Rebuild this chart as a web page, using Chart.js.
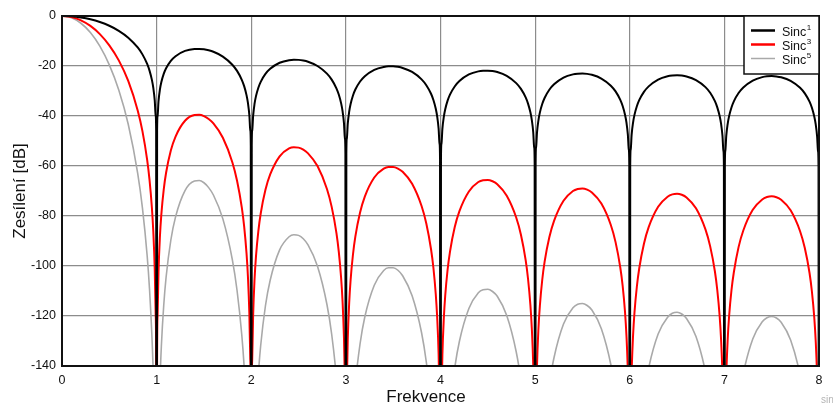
<!DOCTYPE html>
<html>
<head>
<meta charset="utf-8">
<title>Sinc</title>
<script src="https://cdn.jsdelivr.net/npm/chart.js@4.4.1/dist/chart.umd.min.js"></script>
<style>
    html, body { margin: 0; padding: 0; background: #fff; }
    #obal { width: 833px; height: 405px; position: relative; }
</style>
</head>
<body>
<div id="obal"><canvas id="sincGraf"></canvas></div>
<script>
// frekvence (normovaná) - společná osa pro všechny křivky, u nul hustší
const frekvence = [
    0, 0.1, 0.2, 0.3, 0.4, 0.5, 0.6, 0.7, 0.8, 0.85, 0.9, 0.925, 0.95, 0.965, 0.98, 0.99, 0.995,
    1, 1.005, 1.01, 1.02, 1.035, 1.05, 1.075, 1.1, 1.15, 1.2, 1.3, 1.4, 1.45, 1.5, 1.55, 1.6, 1.7, 1.8, 1.85, 1.9, 1.925, 1.95, 1.965, 1.98, 1.99, 1.995,
    2, 2.005, 2.01, 2.02, 2.035, 2.05, 2.075, 2.1, 2.15, 2.2, 2.3, 2.4, 2.45, 2.5, 2.55, 2.6, 2.7, 2.8, 2.85, 2.9, 2.925, 2.95, 2.965, 2.98, 2.99, 2.995,
    3, 3.005, 3.01, 3.02, 3.035, 3.05, 3.075, 3.1, 3.15, 3.2, 3.3, 3.4, 3.45, 3.5, 3.55, 3.6, 3.7, 3.8, 3.85, 3.9, 3.925, 3.95, 3.965, 3.98, 3.99, 3.995,
    4, 4.005, 4.01, 4.02, 4.035, 4.05, 4.075, 4.1, 4.15, 4.2, 4.3, 4.4, 4.45, 4.5, 4.55, 4.6, 4.7, 4.8, 4.85, 4.9, 4.925, 4.95, 4.965, 4.98, 4.99, 4.995,
    5, 5.005, 5.01, 5.02, 5.035, 5.05, 5.075, 5.1, 5.15, 5.2, 5.3, 5.4, 5.45, 5.5, 5.55, 5.6, 5.7, 5.8, 5.85, 5.9, 5.925, 5.95, 5.965, 5.98, 5.99, 5.995,
    6, 6.005, 6.01, 6.02, 6.035, 6.05, 6.075, 6.1, 6.15, 6.2, 6.3, 6.4, 6.45, 6.5, 6.55, 6.6, 6.7, 6.8, 6.85, 6.9, 6.925, 6.95, 6.965, 6.98, 6.99, 6.995,
    7, 7.005, 7.01, 7.02, 7.035, 7.05, 7.075, 7.1, 7.15, 7.2, 7.3, 7.4, 7.45, 7.5, 7.55, 7.6, 7.7, 7.8, 7.85, 7.9, 7.925, 7.95, 7.965, 7.98, 7.99, 7.995,
    8
];

// zesílení v dB (v nulách -400, tj. hluboko pod osou)
const sinc1 = [
    0, -0.14, -0.58, -1.32, -2.41, -3.91, -5.92, -8.66, -12.59, -15.35, -19.18, -21.85, -25.56, -28.77, -33.76, -39.86, -45.92,
    -400, -46.01, -40.03, -34.10, -29.37, -26.42, -23.15, -20.90, -17.94, -16.07, -13.97, -13.20, -13.16, -13.34, -13.73, -14.32, -16.23, -19.49, -21.96, -25.52, -28.06, -31.64, -34.78, -39.70, -45.76, -51.80,
    -400, -51.84, -45.84, -39.86, -35.07, -32.05, -28.68, -26.33, -23.18, -21.13, -18.71, -17.66, -17.50, -17.55, -17.82, -18.31, -20.01, -23.07, -25.45, -28.92, -31.43, -34.96, -38.08, -42.97, -49.01, -55.05,
    -400, -55.07, -49.06, -43.07, -38.26, -35.21, -31.80, -29.42, -26.21, -24.08, -21.53, -20.36, -20.13, -20.13, -20.34, -20.77, -22.37, -25.34, -27.67, -31.10, -33.58, -37.10, -40.20, -45.08, -51.12, -57.14,
    -400, -57.16, -51.15, -45.15, -40.32, -37.27, -33.84, -31.44, -28.18, -26.02, -23.39, -22.14, -21.89, -21.85, -22.03, -22.42, -23.96, -26.86, -29.16, -32.56, -35.03, -38.53, -41.63, -46.50, -52.53, -58.55,
    -400, -58.57, -52.55, -46.54, -41.71, -38.65, -35.20, -32.79, -29.51, -27.32, -24.64, -23.34, -23.06, -22.99, -23.15, -23.52, -25.01, -27.87, -30.15, -33.52, -35.98, -39.47, -42.56, -47.42, -53.45, -59.47,
    -400, -59.48, -53.46, -47.45, -42.61, -39.54, -36.09, -33.66, -30.36, -28.15, -25.43, -24.09, -23.78, -23.70, -23.84, -24.19, -25.64, -28.46, -30.72, -34.08, -36.53, -40.01, -43.09, -47.95, -53.97, -59.99,
    -400, -60.00, -53.98, -47.96, -43.12, -40.04, -36.58, -34.15, -30.82, -28.60, -25.84, -24.46, -24.14, -24.04, -24.16, -24.50, -25.91, -28.70, -30.94, -34.28, -36.72, -40.19, -43.27, -48.12, -54.14, -60.16,
    -400
];

const sinc3 = [
    0, -0.42, -1.74, -3.96, -7.23, -11.73, -17.76, -25.98, -37.77, -46.05, -57.54, -65.55, -76.68, -86.31, -101.3, -119.6, -137.8,
    -400, -138.0, -120.1, -102.3, -88.11, -79.26, -69.45, -62.70, -53.82, -48.21, -41.91, -39.60, -39.48, -40.02, -41.19, -42.96, -48.69, -58.47, -65.88, -76.56, -84.18, -94.92, -104.3, -119.1, -137.3, -155.4,
    -400, -155.5, -137.5, -119.6, -105.2, -96.15, -86.04, -78.99, -69.54, -63.39, -56.13, -52.98, -52.50, -52.65, -53.46, -54.93, -60.03, -69.21, -76.35, -86.76, -94.29, -104.9, -114.2, -128.9, -147.0, -165.2,
    -400, -165.2, -147.2, -129.2, -114.8, -105.6, -95.40, -88.26, -78.63, -72.24, -64.59, -61.08, -60.39, -60.39, -61.02, -62.31, -67.11, -76.02, -83.01, -93.30, -100.7, -111.3, -120.6, -135.2, -153.4, -171.4,
    -400, -171.5, -153.5, -135.5, -121.0, -111.8, -101.5, -94.32, -84.54, -78.06, -70.17, -66.42, -65.67, -65.55, -66.09, -67.26, -71.88, -80.58, -87.48, -97.68, -105.1, -115.6, -124.9, -139.5, -157.6, -175.7,
    -400, -175.7, -157.7, -139.6, -125.1, -116.0, -105.6, -98.37, -88.53, -81.96, -73.92, -70.02, -69.18, -68.97, -69.45, -70.56, -75.03, -83.61, -90.45, -100.6, -107.9, -118.4, -127.7, -142.3, -160.4, -178.4,
    -400, -178.4, -160.4, -142.4, -127.8, -118.6, -108.3, -101.0, -91.08, -84.45, -76.29, -72.27, -71.34, -71.10, -71.52, -72.57, -76.92, -85.38, -92.16, -102.2, -109.6, -120.0, -129.3, -143.9, -161.9, -180.0,
    -400, -180.0, -161.9, -143.9, -129.4, -120.1, -109.7, -102.5, -92.46, -85.80, -77.52, -73.38, -72.42, -72.12, -72.48, -73.50, -77.73, -86.10, -92.82, -102.8, -110.2, -120.6, -129.8, -144.4, -162.4, -180.5,
    -400
];

const sinc5 = [
    0, -0.70, -2.90, -6.60, -12.05, -19.55, -29.60, -43.30, -62.95, -76.75, -95.90, -109.3, -127.8, -143.9, -168.8, -199.3, -229.6,
    -400, -230.1, -200.2, -170.5, -146.9, -132.1, -115.8, -104.5, -89.70, -80.35, -69.85, -66.00, -65.80, -66.70, -68.65, -71.60, -81.15, -97.45, -109.8, -127.6, -140.3, -158.2, -173.9, -198.5, -228.8, -259.0,
    -400, -259.2, -229.2, -199.3, -175.4, -160.3, -143.4, -131.7, -115.9, -105.7, -93.55, -88.30, -87.50, -87.75, -89.10, -91.55, -100.1, -115.4, -127.3, -144.6, -157.2, -174.8, -190.4, -214.9, -245.1, -275.3,
    -400, -275.4, -245.3, -215.4, -191.3, -176.1, -159.0, -147.1, -131.1, -120.4, -107.7, -101.8, -100.7, -100.7, -101.7, -103.9, -111.9, -126.7, -138.4, -155.5, -167.9, -185.5, -201.0, -225.4, -255.6, -285.7,
    -400, -285.8, -255.8, -225.8, -201.6, -186.4, -169.2, -157.2, -140.9, -130.1, -117.0, -110.7, -109.5, -109.3, -110.2, -112.1, -119.8, -134.3, -145.8, -162.8, -175.2, -192.7, -208.2, -232.5, -262.7, -292.8,
    -400, -292.9, -262.8, -232.7, -208.6, -193.3, -176.0, -164.0, -147.6, -136.6, -123.2, -116.7, -115.3, -115.0, -115.8, -117.6, -125.1, -139.4, -150.8, -167.6, -179.9, -197.4, -212.8, -237.1, -267.3, -297.4,
    -400, -297.4, -267.3, -237.3, -213.1, -197.7, -180.5, -168.3, -151.8, -140.8, -127.2, -120.5, -118.9, -118.5, -119.2, -121.0, -128.2, -142.3, -153.6, -170.4, -182.7, -200.1, -215.5, -239.8, -269.9, -300.0,
    -400, -300.0, -269.9, -239.8, -215.6, -200.2, -182.9, -170.8, -154.1, -143.0, -129.2, -122.3, -120.7, -120.2, -120.8, -122.5, -129.6, -143.5, -154.7, -171.4, -183.6, -201.0, -216.4, -240.6, -270.7, -300.8,
    -400
];

// popisky os
const znackyX = [0, 1, 2, 3, 4, 5, 6, 7, 8];
const znackyY = [0, -20, -40, -60, -80, -100, -120, -140];
const mocniny = [1, 3, 5];

const pismo = '"Liberation Sans", Arial, sans-serif';

function body(hodnoty) {
    return frekvence.map((f, i) => ({ x: f, y: hodnoty[i] }));
}

// rámeček kolem grafu, popis osy X a legenda s exponenty
const ramecek = {
    id: 'ramecek',
    afterDatasetsDraw(chart) {
        const { ctx, chartArea: a } = chart;
        ctx.save();
        ctx.strokeStyle = '#111';
        ctx.lineWidth = 2;
        ctx.strokeRect(a.left, a.top, a.right - a.left, a.bottom - a.top);
        ctx.restore();
    },
    afterDraw(chart) {
        const { ctx, chartArea: a } = chart;
        ctx.save();

        ctx.fillStyle = '#111';
        ctx.font = '17px ' + pismo;
        ctx.textAlign = 'center';
        ctx.textBaseline = 'alphabetic';
        ctx.fillText('Frekvence', 426, 402);

        ctx.fillStyle = '#b4b4b4';
        ctx.font = '10px ' + pismo;
        ctx.textAlign = 'left';
        ctx.fillText('sinc', 821, 403);

        // legenda
        const w = 75, h = 58;
        const x = a.right - w, y = a.top;
        ctx.fillStyle = '#fff';
        ctx.fillRect(x, y, w, h);
        ctx.strokeStyle = '#111';
        ctx.lineWidth = 1.5;
        ctx.strokeRect(x, y, w, h);

        chart.data.datasets.forEach((ds, i) => {
            const cy = y + 14.5 + i * 14;
            ctx.strokeStyle = ds.borderColor;
            ctx.lineWidth = i === 2 ? 1.5 : 2.5;
            ctx.beginPath();
            ctx.moveTo(x + 7, cy);
            ctx.lineTo(x + 31, cy);
            ctx.stroke();

            ctx.fillStyle = '#111';
            ctx.font = '12.5px ' + pismo;
            ctx.fillText('Sinc', x + 38, cy + 5);
            const sw = ctx.measureText('Sinc').width;
            ctx.font = '8px ' + pismo;
            ctx.fillText(String(mocniny[i]), x + 38 + sw + 0.5, cy - 1);
        });
        ctx.restore();
    }
};

const ctx = document.getElementById('sincGraf').getContext('2d');
const graf = new Chart(ctx, {
    type: 'line',
    data: {
        datasets: [
            { label: 'Sinc' + mocniny[0], data: body(sinc1), borderColor: '#000000', borderWidth: 2 },
            { label: 'Sinc' + mocniny[1], data: body(sinc3), borderColor: '#ff0000', borderWidth: 2 },
            { label: 'Sinc' + mocniny[2], data: body(sinc5), borderColor: '#a9a9a9', borderWidth: 1.6 }
        ]
    },
    options: {
        responsive: true,
        maintainAspectRatio: false,
        animation: false,
        elements: {
            point: { radius: 0 },
            line: { cubicInterpolationMode: 'monotone', fill: false }
        },
        layout: { padding: { top: 16, right: 14, left: 0, bottom: 0 } },
        plugins: {
            legend: { display: false },
            tooltip: { enabled: false }
        },
        scales: {
            x: {
                type: 'linear',
                min: 0,
                max: 8,
                afterBuildTicks: s => { s.ticks = znackyX.map(v => ({ value: v })); },
                afterFit: s => { s.height = 39; },
                grid: { color: '#8c8c8c', lineWidth: 1.2, drawTicks: false },
                border: { display: false },
                ticks: { padding: 7, color: '#111', font: { family: pismo, size: 12.5 } }
            },
            y: {
                min: -140,
                max: 0,
                afterBuildTicks: s => { s.ticks = znackyY.map(v => ({ value: v })); },
                afterFit: s => { s.width = 62; },
                grid: { color: '#8c8c8c', lineWidth: 1.2, drawTicks: false },
                border: { display: false },
                ticks: { padding: 6, color: '#111', font: { family: pismo, size: 12.5 } },
                title: {
                    display: true,
                    text: 'Zesílení [dB]',
                    color: '#111',
                    font: { family: pismo, size: 17 },
                    padding: { top: 10, bottom: 0 }
                }
            }
        }
    },
    plugins: [ramecek]
});
</script>
</body>
</html>
